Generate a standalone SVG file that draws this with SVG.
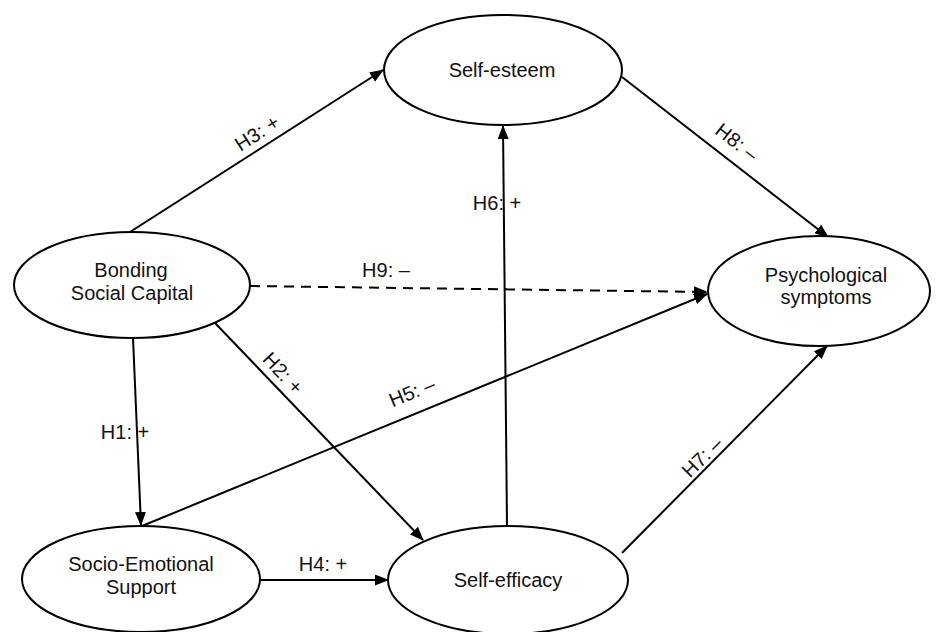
<svg xmlns="http://www.w3.org/2000/svg" width="937" height="632" viewBox="0 0 937 632">
<defs>
<style>
.node ellipse{fill:#fff;stroke:#000;stroke-width:2}
.node text{font-family:"Liberation Sans",Arial,sans-serif;font-size:20px;fill:#111;text-anchor:middle}
.lbl{font-family:"Liberation Sans",Arial,sans-serif;font-size:20px;fill:#111;text-anchor:middle}
.edge{stroke:#000;stroke-width:2;fill:none;marker-end:url(#arr)}
.dash{stroke-dasharray:10 7}
</style>
<marker id="arr" markerUnits="userSpaceOnUse" markerWidth="14" markerHeight="12" refX="13" refY="5.5" orient="auto">
<path d="M0,0 L14,5.5 L0,11 z" fill="#000"/>
</marker>
</defs>
<rect width="937" height="632" fill="#fff"/>
<g id="connectors">
<line class="edge" x1="130" y1="232" x2="383" y2="70"/>
<line class="edge" x1="622" y1="77" x2="828" y2="237"/>
<line class="edge dash" x1="250" y1="286" x2="707" y2="292"/>
<line class="edge" x1="507" y1="526" x2="503" y2="126"/>
<line class="edge" x1="215" y1="323" x2="423" y2="540"/>
<line class="edge" x1="142" y1="526" x2="707" y2="294"/>
<line class="edge" x1="133" y1="338" x2="141" y2="525"/>
<line class="edge" x1="260" y1="580" x2="388" y2="580"/>
<line class="edge" x1="622" y1="553" x2="827" y2="346"/>
</g>
<g id="labels">
<text class="lbl" transform="translate(257,133) rotate(-33)" y="7">H3: +</text>
<text class="lbl" transform="translate(737,142) rotate(38)" y="7">H8: –</text>
<text class="lbl" x="386" y="277">H9: –</text>
<text class="lbl" x="497" y="210">H6: +</text>
<text class="lbl" transform="translate(283,373) rotate(47)" y="7">H2: +</text>
<text class="lbl" transform="translate(412,392) rotate(-22.5)" y="7">H5: –</text>
<text class="lbl" x="125" y="439">H1: +</text>
<text class="lbl" x="323" y="571">H4: +</text>
<text class="lbl" transform="translate(702,457) rotate(-45)" y="7">H7: –</text>
</g>
<g id="self-esteem" class="node">
<ellipse cx="503" cy="70" rx="119" ry="55"/>
<text x="502" y="77">Self-esteem</text>
</g>
<g id="bonding" class="node">
<ellipse cx="132" cy="285" rx="118" ry="53"/>
<text x="131" y="277">Bonding</text>
<text x="132" y="300">Social Capital</text>
</g>
<g id="psych" class="node">
<ellipse cx="819" cy="291" rx="111" ry="55"/>
<text x="826" y="282">Psychological</text>
<text x="826" y="304">symptoms</text>
</g>
<g id="socio" class="node">
<ellipse cx="141" cy="579" rx="119" ry="53"/>
<text x="141" y="571">Socio-Emotional</text>
<text x="141" y="594">Support</text>
</g>
<g id="self-efficacy" class="node">
<ellipse cx="508" cy="580" rx="120" ry="54"/>
<text x="508" y="587">Self-efficacy</text>
</g>
</svg>
